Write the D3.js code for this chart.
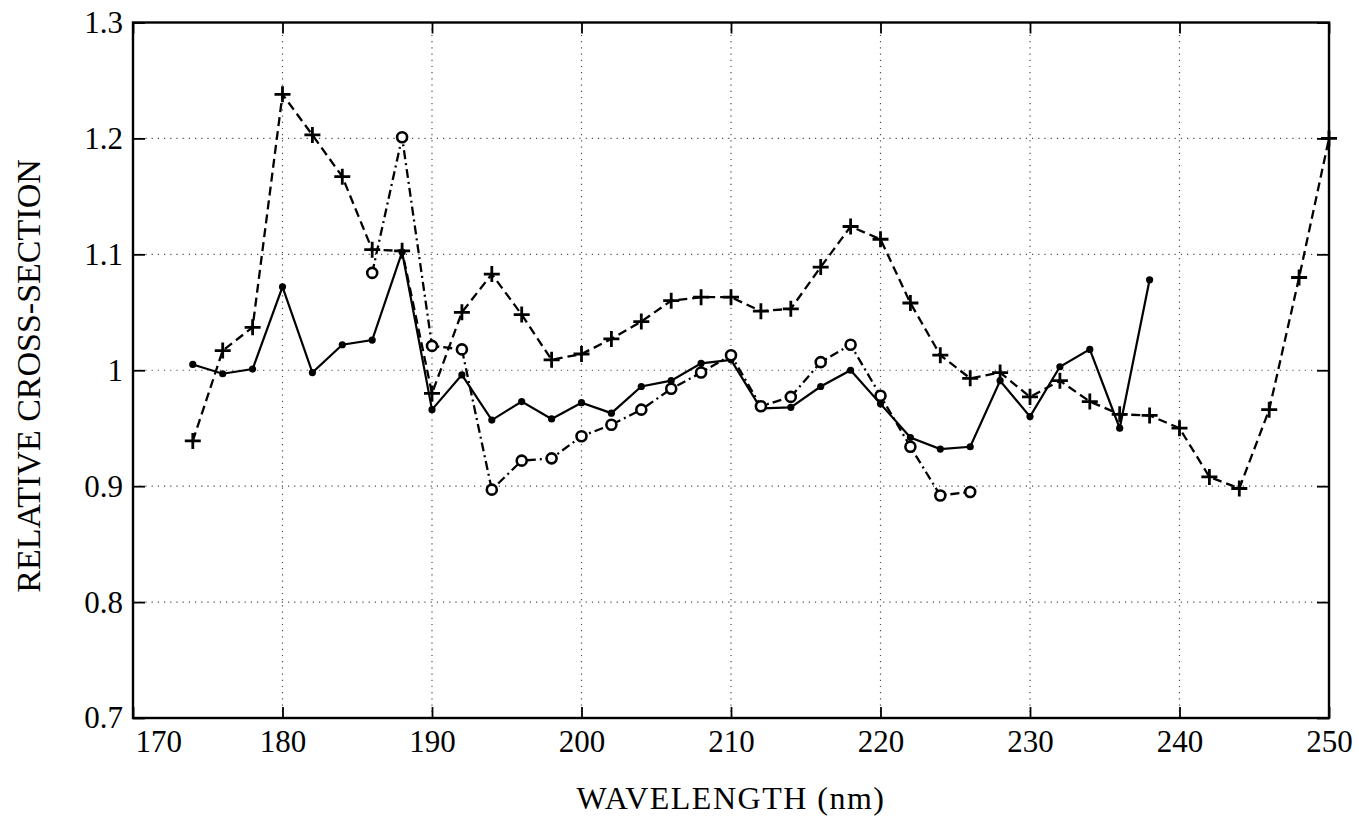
<!DOCTYPE html>
<html>
<head>
<meta charset="utf-8">
<script src="https://cdn.jsdelivr.net/npm/d3@7"></script>
<style>
  html, body { margin: 0; padding: 0; background: #fff; }
  svg { display: block; }
  text { font-family: "Liberation Serif", "Times New Roman", serif; fill: #000; }
</style>
</head>
<body>
<svg id="chart" width="1359" height="822"></svg>
<script>
// Wavelength samples (nm) for each measured series
const wavelengthsSolid = d3.range(174, 240, 2);   // 174 … 238
const wavelengthsPlus = d3.range(174, 252, 2);    // 174 … 250
const wavelengthsCircle = d3.range(186, 228, 2);  // 186 … 226

// Relative cross-section values
const solidValues = [
  1.005, 0.997, 1.001, 1.072, 0.998, 1.022, 1.026, 1.102, 0.966,
  0.996, 0.957, 0.973, 0.958, 0.972, 0.963, 0.986, 0.991, 1.006, 1.009,
  0.967, 0.968, 0.986, 1.000, 0.971, 0.942, 0.932, 0.934, 0.991, 0.960,
  1.003, 1.018, 0.950, 1.078
];
const plusValues = [
  0.939, 1.017, 1.037, 1.238, 1.203, 1.167, 1.104, 1.103, 0.980,
  1.050, 1.083, 1.048, 1.009, 1.014, 1.027, 1.042, 1.060, 1.063, 1.063,
  1.051, 1.053, 1.089, 1.124, 1.113, 1.058, 1.013, 0.993, 0.998, 0.977,
  0.991, 0.973, 0.962, 0.961, 0.950,
  0.908, 0.898, 0.966, 1.080, 1.200
];
const circleValues = [
  1.084, 1.201, 1.021,
  1.018, 0.897, 0.922, 0.924, 0.943, 0.953, 0.966, 0.984, 0.998, 1.013,
  0.969, 0.977, 1.007, 1.022, 0.978, 0.934, 0.892, 0.895
];

// Axis ticks
const xTicks = [170, 180, 190, 200, 210, 220, 230, 240, 250];
const yTicks = [0.7, 0.8, 0.9, 1.0, 1.1, 1.2, 1.3];
const yTickLabels = ["0.7", "0.8", "0.9", "1", "1.1", "1.2", "1.3"];

const svg = d3.select("#chart");
const plot = { left: 133, right: 1329, top: 22.5, bottom: 718 };

const x = d3.scaleLinear().domain([170, 250]).range([plot.left, plot.right]);
const y = d3.scaleLinear().domain([0.7, 1.3]).range([plot.bottom, plot.top]);

// Dotted grid
const grid = svg.append("g")
  .attr("stroke", "#000")
  .attr("stroke-width", 1.2)
  .attr("stroke-dasharray", "1.2,5")
  .attr("opacity", 0.7);
grid.selectAll("line.h")
  .data(yTicks.slice(1, -1))
  .join("line")
  .attr("class", "h")
  .attr("x1", plot.left).attr("x2", plot.right)
  .attr("y1", d => y(d)).attr("y2", d => y(d));
grid.selectAll("line.v")
  .data(xTicks.slice(1, -1))
  .join("line")
  .attr("class", "v")
  .attr("y1", plot.top).attr("y2", plot.bottom)
  .attr("x1", d => x(d)).attr("x2", d => x(d));

// Axes with inward ticks
const fontSize = 31;
const gBottom = svg.append("g")
  .attr("transform", `translate(0,${plot.bottom})`)
  .call(d3.axisBottom(x).tickValues(xTicks).tickSizeInner(-11).tickSizeOuter(0).tickPadding(12));
const gLeft = svg.append("g")
  .attr("transform", `translate(${plot.left},0)`)
  .call(d3.axisLeft(y).tickValues(yTicks).tickFormat((d, i) => yTickLabels[i])
        .tickSizeInner(-12).tickSizeOuter(0).tickPadding(10));
const gTop = svg.append("g")
  .attr("transform", `translate(0,${plot.top})`)
  .call(d3.axisTop(x).tickValues(xTicks).tickSizeInner(-11).tickSizeOuter(0).tickFormat(""));
const gRight = svg.append("g")
  .attr("transform", `translate(${plot.right},0)`)
  .call(d3.axisRight(y).tickValues(yTicks).tickSizeInner(-12).tickSizeOuter(0).tickFormat(""));

[gBottom, gLeft, gTop, gRight].forEach(g => {
  g.select(".domain").remove();
  g.selectAll(".tick line").attr("stroke", "#000").attr("stroke-width", 1.8);
  g.selectAll("text")
    .attr("font-family", "Liberation Serif, serif")
    .attr("font-size", fontSize)
    .attr("fill", "#000");
});
// First x label sits just right of the corner
gBottom.selectAll(".tick text")
  .filter(d => d === 170)
  .attr("text-anchor", "start")
  .attr("x", 2);

// Frame
svg.append("rect")
  .attr("x", plot.left).attr("y", plot.top)
  .attr("width", plot.right - plot.left).attr("height", plot.bottom - plot.top)
  .attr("fill", "none").attr("stroke", "#000").attr("stroke-width", 2.4);

// Series
const line = d3.line().x(d => x(d[0])).y(d => y(d[1]));
const solidData = d3.zip(wavelengthsSolid, solidValues);
const plusData = d3.zip(wavelengthsPlus, plusValues);
const circleData = d3.zip(wavelengthsCircle, circleValues);

svg.append("path")
  .datum(plusData)
  .attr("d", line)
  .attr("fill", "none").attr("stroke", "#000")
  .attr("stroke-width", 2.3).attr("stroke-dasharray", "9,5");

svg.append("path")
  .datum(circleData)
  .attr("d", line)
  .attr("fill", "none").attr("stroke", "#000")
  .attr("stroke-width", 2.3).attr("stroke-dasharray", "9,4,2,4");

svg.append("path")
  .datum(solidData)
  .attr("d", line)
  .attr("fill", "none").attr("stroke", "#000")
  .attr("stroke-width", 2.2);

// Markers
svg.append("g").selectAll("circle")
  .data(solidData)
  .join("circle")
  .attr("cx", d => x(d[0])).attr("cy", d => y(d[1]))
  .attr("r", 3.6).attr("fill", "#000");

svg.append("g").selectAll("path")
  .data(plusData)
  .join("path")
  .attr("d", d => {
    const cx = x(d[0]), cy = y(d[1]), s = 8;
    return `M${cx - s},${cy}H${cx + s}M${cx},${cy - s}V${cy + s}`;
  })
  .attr("stroke", "#000").attr("stroke-width", 2.8).attr("fill", "none");

svg.append("g").selectAll("circle")
  .data(circleData)
  .join("circle")
  .attr("cx", d => x(d[0])).attr("cy", d => y(d[1]))
  .attr("r", 5).attr("fill", "#fff")
  .attr("stroke", "#000").attr("stroke-width", 2.6);

// Axis titles
svg.append("text")
  .attr("x", (plot.left + plot.right) / 2).attr("y", 809)
  .attr("text-anchor", "middle")
  .attr("font-size", 32)
  .attr("letter-spacing", 1.5)
  .text("WAVELENGTH (nm)");

svg.append("text")
  .attr("transform", "rotate(-90)")
  .attr("x", -376).attr("y", 40)
  .attr("text-anchor", "middle")
  .attr("font-size", 34)
  .text("RELATIVE CROSS-SECTION");
</script>
</body>
</html>
